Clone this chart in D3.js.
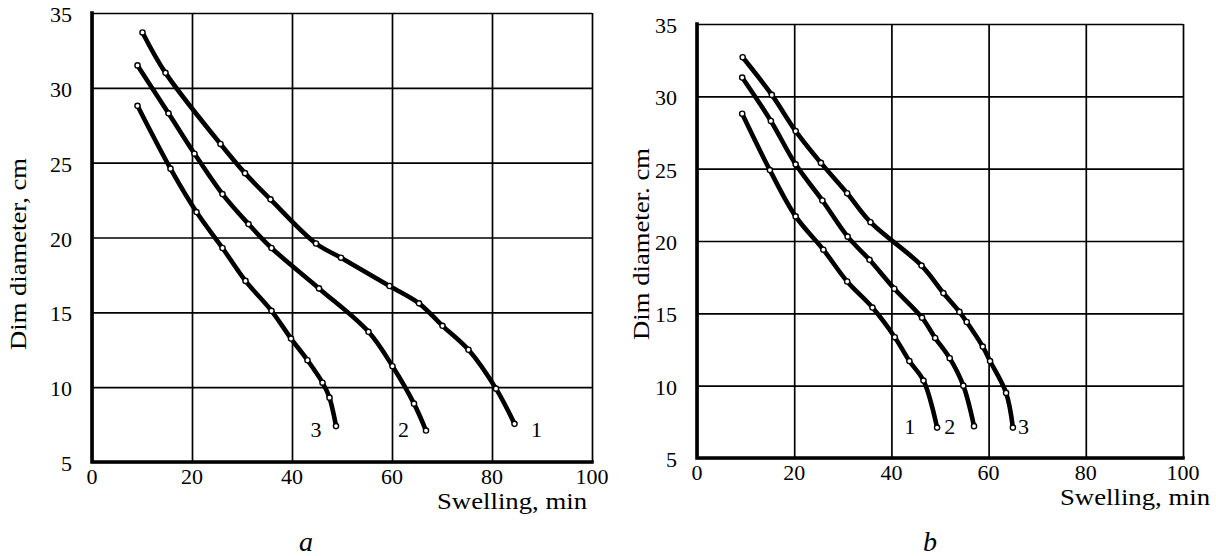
<!DOCTYPE html>
<html>
<head>
<meta charset="utf-8">
<script src="https://cdn.jsdelivr.net/npm/d3@7"></script>
<style>
body { margin: 0; background: #fff; }
svg { display: block; }
text { font-family: "Liberation Serif", "Times New Roman", serif; fill: #000; }
</style>
</head>
<body>
<svg width="1216" height="556"></svg>
<script>
var xTicks = [0, 20, 40, 60, 80, 100];
var yTicks = [5, 10, 15, 20, 25, 30, 35];
var curveNames = ["1", "2", "3"];

// panel a
var a1X = [10.1, 14.7, 25.7, 30.6, 35.7, 44.8, 49.8, 59.5, 65.4, 70.1, 75.3, 80.8, 84.5];
var a1Y = [33.7, 31.0, 26.25, 24.3, 22.55, 19.6, 18.65, 16.76, 15.6, 14.1, 12.5, 9.9, 7.55];
var a2X = [9.1, 15.3, 20.5, 26.1, 31.3, 35.9, 45.4, 55.3, 60.1, 64.4, 66.8];
var a2Y = [31.5, 28.3, 25.6, 22.9, 20.9, 19.3, 16.6, 13.7, 11.4, 8.9, 7.1];
var a3X = [9.1, 15.7, 20.9, 26.1, 30.7, 35.9, 39.8, 43.1, 46.1, 47.5, 48.8];
var a3Y = [28.8, 24.6, 21.7, 19.3, 17.1, 15.1, 13.25, 11.8, 10.3, 9.3, 7.4];
var aLabelX = [88.9, 62.3, 44.8];

// panel b
var b1X = [9.3, 15.0, 20.3, 26.0, 30.9, 36.1, 40.7, 43.7, 46.6, 49.4];
var b1Y = [28.8, 24.9, 21.7, 19.4, 17.2, 15.4, 13.35, 11.7, 10.35, 7.1];
var b2X = [9.3, 15.2, 20.3, 25.8, 31.0, 35.5, 40.6, 46.3, 49.0, 52.0, 54.8, 57.0];
var b2Y = [31.3, 28.3, 25.3, 22.8, 20.3, 18.7, 16.7, 14.7, 13.3, 11.9, 10.0, 7.2];
var b3X = [9.4, 15.4, 20.3, 25.5, 30.9, 35.7, 46.2, 50.7, 54.0, 55.5, 58.8, 60.3, 63.6, 65.0];
var b3Y = [32.7, 30.1, 27.6, 25.4, 23.3, 21.3, 18.3, 16.4, 15.1, 14.4, 12.7, 11.7, 9.5, 7.1];
var bLabelX = [43.8, 52.0, 67.2];
var labelY = 7.2;

var svg = d3.select("svg");

function zip(xs, ys) {
	return xs.map(function(v, i) { return {x: v, y: ys[i]}; });
}

function drawPanel(p) {
	var x = d3.scaleLinear().domain([0, 100]).range([p.left, p.right]);
	var y = d3.scaleLinear().domain([5, 35]).range([p.bottom, p.top]);
	var g = svg.append("g");

	// grid
	g.append("g")
		.attr("transform", "translate(0," + p.bottom + ")")
		.call(d3.axisBottom(x).tickValues(xTicks).tickSize(-(p.bottom - p.top)).tickFormat(""))
		.call(function(s) { s.select(".domain").remove(); })
		.selectAll("line").attr("stroke", "#000").attr("stroke-width", 1.7);
	g.append("g")
		.attr("transform", "translate(" + p.left + ",0)")
		.call(d3.axisLeft(y).tickValues(yTicks).tickSize(-(p.right - p.left)).tickFormat(""))
		.call(function(s) { s.select(".domain").remove(); })
		.selectAll("line").attr("stroke", "#000").attr("stroke-width", 1.7);

	// thick axes
	g.append("path")
		.attr("d", "M" + p.left + "," + p.top + "V" + p.bottom + "H" + p.right)
		.attr("fill", "none").attr("stroke", "#000").attr("stroke-width", 3.6)
		.attr("stroke-linecap", "square");

	// tick labels
	g.selectAll(".xl").data(xTicks).enter().append("text")
		.attr("x", function(d) { return x(d); })
		.attr("y", p.bottom + 22)
		.attr("text-anchor", "middle")
		.style("font-size", "22px")
		.text(function(d) { return d; });
	g.selectAll(".yl").data(yTicks).enter().append("text")
		.attr("x", p.left - 20)
		.attr("y", function(d) { return y(d) + 9; })
		.attr("text-anchor", "end")
		.style("font-size", "22px")
		.text(function(d) { return d; });

	// axis titles
	g.append("text")
		.attr("x", p.titleRight)
		.attr("y", p.bottom + 47)
		.attr("text-anchor", "end")
		.attr("textLength", 150)
		.attr("lengthAdjust", "spacingAndGlyphs")
		.style("font-size", "23px")
		.text("Swelling, min");
	g.append("text")
		.attr("transform", "translate(" + p.yTitleX + "," + p.yTitleY + ") rotate(-90)")
		.attr("text-anchor", "middle")
		.attr("textLength", 192)
		.attr("lengthAdjust", "spacingAndGlyphs")
		.style("font-size", "23px")
		.text(p.yTitle);

	var line = d3.line()
		.x(function(d) { return x(d.x); })
		.y(function(d) { return y(d.y); })
		.curve(d3.curveCatmullRom.alpha(0.5));

	p.series.forEach(function(s, i) {
		g.append("path")
			.datum(s)
			.attr("fill", "none")
			.attr("stroke", "#000")
			.attr("stroke-width", 4.6)
			.attr("stroke-linecap", "round")
			.attr("d", line);
		g.selectAll(".pt" + i).data(s).enter().append("circle")
			.attr("cx", function(d) { return x(d.x); })
			.attr("cy", function(d) { return y(d.y); })
			.attr("r", 2.6)
			.attr("fill", "#fff")
			.attr("stroke", "#000")
			.attr("stroke-width", 1.4);
		g.append("text")
			.attr("x", x(p.labelX[i]))
			.attr("y", y(labelY) + 8)
			.attr("text-anchor", "middle")
			.style("font-size", "22px")
			.text(curveNames[i]);
	});

	g.append("text")
		.attr("x", p.captionX)
		.attr("y", 551)
		.attr("text-anchor", "middle")
		.style("font-size", "28px")
		.style("font-style", "italic")
		.text(p.caption);
}

drawPanel({
	left: 92, right: 592, top: 13, bottom: 462,
	series: [zip(a1X, a1Y), zip(a2X, a2Y), zip(a3X, a3Y)],
	labelX: aLabelX,
	titleRight: 587,
	yTitle: "Dim diameter, cm", yTitleX: 26, yTitleY: 254,
	caption: "a", captionX: 306
});

drawPanel({
	left: 697, right: 1183, top: 24, bottom: 458,
	series: [zip(b1X, b1Y), zip(b2X, b2Y), zip(b3X, b3Y)],
	labelX: bLabelX,
	titleRight: 1210,
	yTitle: "Dim diameter. cm", yTitleX: 649, yTitleY: 244,
	caption: "b", captionX: 930
});
</script>
</body>
</html>
